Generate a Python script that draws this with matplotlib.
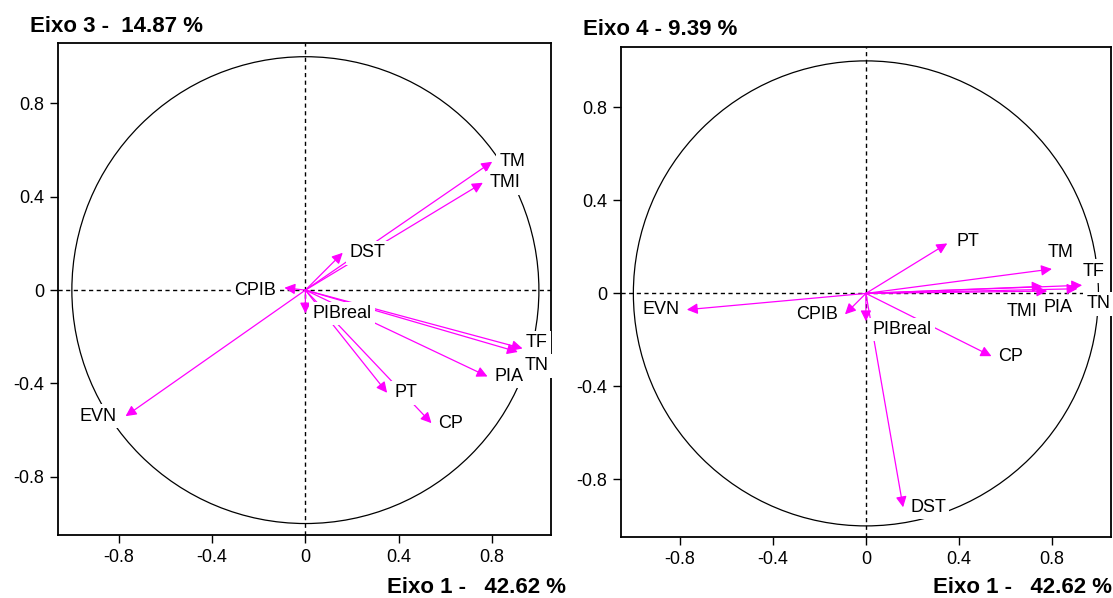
import numpy as np
import matplotlib.pyplot as plt
from matplotlib.patches import Circle

plt.rcParams['font.family'] = ['Liberation Sans', 'DejaVu Sans']

# correlacoes das variaveis com os eixos
variaveis = ['TM', 'TMI', 'DST', 'CPIB', 'PIBreal', 'TF', 'TN', 'PIA', 'PT', 'CP', 'EVN']
eixo1 = [0.80, 0.76, 0.16, -0.09, 0.0, 0.93, 0.91, 0.78, 0.35, 0.54, -0.77]
eixo3 = [0.55, 0.46, 0.16, 0.01, -0.10, -0.25, -0.265, -0.37, -0.44, -0.57, -0.54]
eixo4 = [0.105, 0.03, -0.92, -0.09, -0.12, 0.035, 0.02, 0.01, 0.215, -0.27, -0.07]

ticks = [-0.8, -0.4, 0, 0.4, 0.8]
tick_labels = ['-0.8', '-0.4', '0', '0.4', '0.8']

titulo_x = 'Eixo 1 -   42.62 %'
titulo_y3 = 'Eixo 3 -  14.87 %'
titulo_y4 = 'Eixo 4 - 9.39 %'

# deslocamentos dos rotulos (dx, dy, alinhamento)
ajuste3 = {'TF': (0.015, 0.025, None), 'TN': (0.03, -0.06, None),
           'EVN': (-0.04, 0, None), 'CPIB': (-0.035, -0.01, None)}
ajuste4 = {'PT': (0.04, 0.01, None), 'TM': (-0.02, 0.07, None),
           'TF': (0.0, 0.06, None), 'TN': (0.04, -0.065, None),
           'PIA': (-0.015, -0.07, None), 'TMI': (-0.02, -0.11, 'right'),
           'PIBreal': (0.03, -0.035, None)}

fig = plt.figure(figsize=(11.13, 5.98), dpi=100)


def circulo(ax, xs, ys, ajuste, xlim, ylim):
    ax.set_xlim(xlim)
    ax.set_ylim(ylim)
    ax.add_patch(Circle((0, 0), 1, fill=False, ec='black', lw=0.9, zorder=1))
    ax.axhline(0, color='black', lw=1, ls=(0, (3, 2.5)), zorder=1)
    ax.axvline(0, color='black', lw=1, ls=(0, (3, 2.5)), zorder=1)
    for nome, x, y in zip(variaveis, xs, ys):
        ax.annotate('', xy=(x, y), xytext=(0, 0),
                    arrowprops=dict(arrowstyle='-|>', color='#ff00ff', lw=0.9,
                                    shrinkA=0, shrinkB=0, mutation_scale=16),
                    zorder=2)
        dx, dy, ha = ajuste.get(nome, (0.03 if x >= 0 else -0.03, 0, None))
        if ha is None:
            ha = 'left' if x >= 0 else 'right'
        ax.text(x + dx, y + dy, nome, ha=ha, va='center', fontsize=13,
                bbox=dict(facecolor='white', edgecolor='none', pad=2.5), zorder=5)
    ax.set_xticks(ticks)
    ax.set_xticklabels(tick_labels)
    ax.set_yticks(ticks)
    ax.set_yticklabels(tick_labels)
    ax.tick_params(direction='out', length=6, width=1, labelsize=13, pad=4)
    for s in ax.spines.values():
        s.set_linewidth(1.3)


ax1 = fig.add_axes([0.0524, 0.1054, 0.4427, 0.8232])
circulo(ax1, eixo1, eixo3, ajuste3, (-1.058, 1.052), (-1.049, 1.06))

ax2 = fig.add_axes([0.5582, 0.1015, 0.44, 0.8204])
circulo(ax2, eixo1, eixo4, ajuste4, (-1.052, 1.054), (-1.049, 1.061))

fig.text(30 / 1113, 1 - 31.7 / 598, titulo_y3, fontsize=16, fontweight='bold', va='baseline')
fig.text(583 / 1113, 1 - 35 / 598, titulo_y4, fontsize=16, fontweight='bold', va='baseline')
fig.text(386.7 / 1113, 1 - 593 / 598, titulo_x, fontsize=16, fontweight='bold', va='baseline')
fig.text(933.3 / 1113, 1 - 593 / 598, titulo_x, fontsize=16, fontweight='bold', va='baseline')

fig.savefig('out.png', dpi=100)
